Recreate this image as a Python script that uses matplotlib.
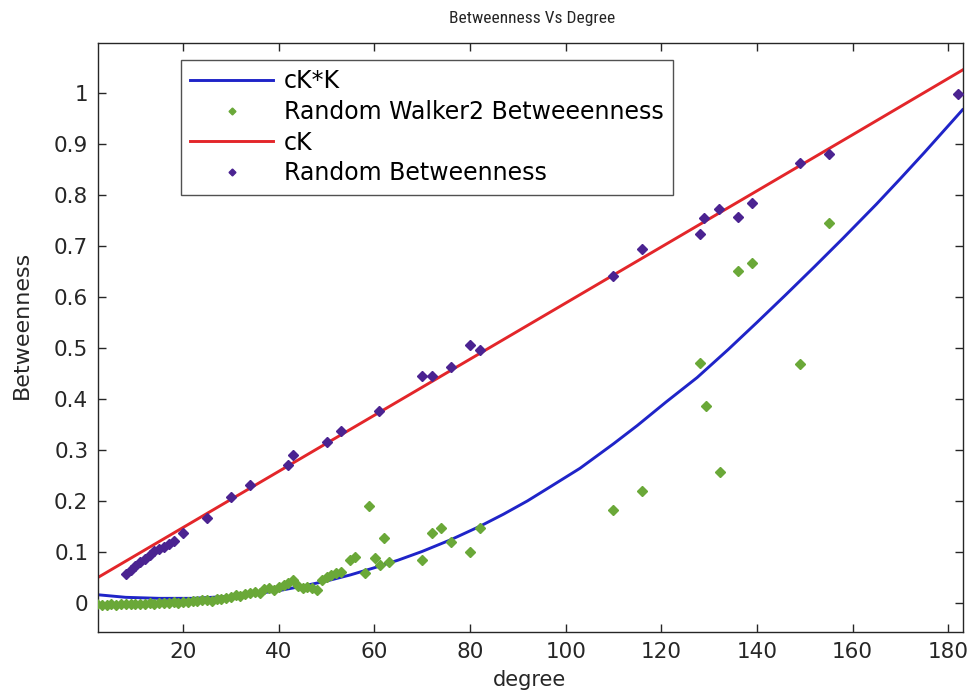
import matplotlib
matplotlib.use("Agg")
import logging
import matplotlib.pyplot as plt

logging.getLogger("matplotlib.font_manager").setLevel(logging.ERROR)

# Fitted curves, sampled along the degree axis
fit_deg_quad = [2.2, 8, 15, 22, 30, 35, 40, 45, 50, 55, 60, 65, 70, 76, 82, 87, 92, 97, 103,
                110, 115, 121, 127.5, 134, 140, 146, 152, 158, 165, 170, 175, 179, 183]
fit_val_quad = [0.016, 0.011, 0.009, 0.009, 0.013, 0.018, 0.024, 0.033, 0.043, 0.055, 0.069,
                0.084, 0.101, 0.124, 0.150, 0.174, 0.200, 0.229, 0.264, 0.312, 0.348, 0.394,
                0.442, 0.497, 0.550, 0.604, 0.659, 0.715, 0.782, 0.832, 0.883, 0.925, 0.967]

fit_deg_lin = [2.2, 40, 80, 120, 160, 183]
fit_val_lin = [0.050, 0.258, 0.478, 0.698, 0.918, 1.045]

# Random Walker2 betweenness samples
walker_deg = [2, 3, 4, 5, 6, 7, 8, 9, 10, 11, 12, 13, 14, 15, 16, 17, 18, 19, 20, 21,
              22, 23, 24, 25, 26, 27, 28, 29, 30, 31, 32, 33, 34, 35, 36, 37, 38, 39, 40,
              41, 42, 43, 44, 45, 46, 47, 48, 49, 50, 51, 52, 53, 55, 56, 58, 58.8, 60.2,
              61.2, 62, 63, 70, 72, 74, 76, 80, 82, 110, 116, 128, 129.4, 132.3, 136, 139,
              149, 155]
walker_val = [-0.003, -0.004, -0.004, -0.003, -0.004, -0.003, -0.003, -0.002, -0.003, -0.002,
              -0.002, -0.001, -0.002, 0.000, -0.001, 0.000, 0.001, 0.000, 0.001, 0.002,
              0.003, 0.004, 0.005, 0.006, 0.004, 0.007, 0.008, 0.009, 0.012, 0.015, 0.014,
              0.018, 0.020, 0.022, 0.020, 0.027, 0.029, 0.026, 0.032, 0.035, 0.040, 0.045,
              0.033, 0.030, 0.031, 0.029, 0.025, 0.045, 0.050, 0.055, 0.058, 0.060, 0.084,
              0.090, 0.058, 0.191, 0.088, 0.075, 0.128, 0.081, 0.084, 0.137, 0.146, 0.120,
              0.100, 0.146, 0.182, 0.220, 0.470, 0.386, 0.256, 0.651, 0.667, 0.469, 0.746]

# Random betweenness samples
random_deg = [8, 9, 10, 11, 12, 13, 14, 15, 16, 17, 18, 20, 25, 30, 34, 42, 43, 50, 53, 61,
              70, 72, 76, 80, 82, 110, 116, 128, 129, 132, 136, 139, 149, 155, 182]
random_val = [0.056, 0.065, 0.072, 0.080, 0.086, 0.094, 0.101, 0.106, 0.110, 0.116, 0.122,
              0.137, 0.167, 0.208, 0.231, 0.271, 0.290, 0.316, 0.337, 0.376, 0.445, 0.445,
              0.463, 0.505, 0.496, 0.641, 0.694, 0.724, 0.754, 0.772, 0.757, 0.785, 0.863,
              0.880, 0.998]

x_ticks = [20, 40, 60, 80, 100, 120, 140, 160, 180]
y_ticks = [0, 0.1, 0.2, 0.3, 0.4, 0.5, 0.6, 0.7, 0.8, 0.9, 1]
y_tick_labels = ["0", "0.1", "0.2", "0.3", "0.4", "0.5", "0.6", "0.7", "0.8", "0.9", "1"]

plt.rcParams["font.family"] = ["DejaVu Sans"]
INK = "#262626"

W, H = 974, 694
fig = plt.figure(figsize=(W / 100, H / 100), dpi=100)
ax = fig.add_axes([98 / W, 1 - 632 / H, 865 / W, 589 / H])

ax.plot(fit_deg_quad, fit_val_quad, color="#1f24c8", lw=2.1, label="cK*K", zorder=2)
ax.plot(walker_deg, walker_val, ls="none", marker="D", ms=5.0, color="#6aa838",
        mec="#6aa838", label="Random Walker2 Betweeenness", zorder=3)
ax.plot(fit_deg_lin, fit_val_lin, color="#e3262a", lw=2.1, label="cK", zorder=2)
ax.plot(random_deg, random_val, ls="none", marker="D", ms=5.0, color="#4b2391",
        mec="#4b2391", label="Random Betweenness", zorder=4)

ax.set_xlim(2.2, 183.1)
ax.set_ylim(-0.057, 1.098)
ax.set_xticks(x_ticks)
ax.set_yticks(y_ticks)
ax.set_yticklabels(y_tick_labels)
ax.tick_params(direction="in", top=True, right=True, length=6, width=1,
               labelsize=15.5, colors=INK)
ax.tick_params(axis="x", pad=7)
ax.tick_params(axis="y", pad=7)
for s in ax.spines.values():
    s.set_linewidth(1.0)
    s.set_color(INK)

ax.set_xlabel("degree", fontsize=15, color=INK)
ax.xaxis.label.set_va("center")
ax.xaxis.set_label_coords((530 - 98) / 865, (632 - 680) / 589)
ax.set_ylabel("Betweenness", fontsize=16, color=INK)
ax.yaxis.label.set_va("center")
ax.yaxis.set_label_coords((22 - 98) / 865, (632 - 325) / 589)

fig.text(532 / W, 1 - 18 / H, "Betweenness Vs Degree", ha="center", va="center",
         fontsize=12.5, color=INK, fontstretch="condensed",
         family=["Liberation Sans Narrow", "Roboto Condensed", "DejaVu Sans"])

leg = ax.legend(loc="upper left", bbox_to_anchor=(83 / 865, (632 - 60) / 589),
                borderaxespad=0, fontsize=17, handlelength=3.5, handletextpad=0.45,
                labelspacing=0.28, borderpad=0.4, fancybox=False, frameon=True,
                markerscale=0.7)
leg.get_frame().set_edgecolor(INK)
leg.get_frame().set_linewidth(1.0)

fig.savefig("out.png", dpi=100, facecolor="white")
